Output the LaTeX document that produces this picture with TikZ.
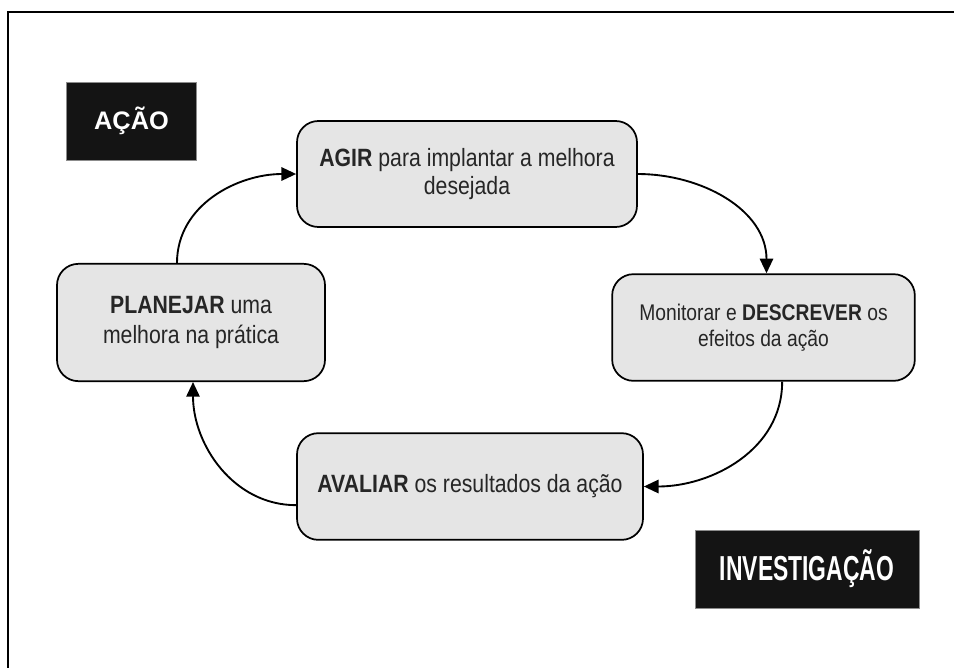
\documentclass[tikz,border=0pt]{standalone}
\usepackage{fontspec}
\setmainfont{Liberation Sans}
\newfontfamily\estreita{Liberation Sans}[FakeStretch=0.85]
\newfontfamily\apertada{Liberation Sans}[FakeStretch=0.66]
\usetikzlibrary{arrows.meta}

\begin{document}
\begin{tikzpicture}[x=0.75pt,y=-0.75pt,
    etapa/.style={draw,line width=1.3pt,fill=black!10,rounded corners=16pt,
      align=center,text=black!85,inner sep=0pt},
    rotulo/.style={draw=black!45,line width=0.6pt,fill=black!92,text=white,
      inner sep=0pt,minimum height=58.5pt},
    seta/.style={line width=1.4pt,-{Triangle[length=11pt,width=10pt]}}]
  \useasboundingbox (0,0) rectangle (954,668);
  \draw[line width=1.6pt] (8,668) -- (8,12) -- (954,12);
  \node[rotulo,minimum width=98pt,font=\fontsize{19}{22}\selectfont\bfseries] (acao) at (131.5,121) {AÇÃO};
  \node[rotulo,minimum width=168pt,font=\apertada\fontsize{26}{30}\selectfont\bfseries] (investigacao) at (807,569) {INVESTIGAÇÃO};
  \node[etapa,minimum width=255pt,minimum height=79.5pt,font=\estreita\fontsize{18.75}{21}\selectfont] (agir) at (467,174)
    {\textbf{AGIR} para implantar a melhora\\desejada};
  \node[etapa,minimum width=201pt,minimum height=88pt,font=\estreita\fontsize{18.75}{22}\selectfont] (planejar) at (191,322.5)
    {\textbf{PLANEJAR} uma\\melhora na prática};
  \node[etapa,minimum width=227pt,minimum height=80pt,font=\estreita\fontsize{17}{19.5}\selectfont] (monitorar) at (763.5,327.5)
    {Monitorar e \textbf{DESCREVER} os\\efeitos da ação};
  \node[etapa,minimum width=259.5pt,minimum height=80pt,font=\estreita\fontsize{18.75}{21}\selectfont] (avaliar) at (470,486.5)
    {\textbf{AVALIAR} os resultados da ação};
  \draw[seta] ([xshift=-10.5pt]planejar.north) to[out=90,in=180] (agir.west);
  \draw[seta] (agir.east) to[out=0,in=90] ([xshift=2.25pt]monitorar.north);
  \draw[seta] ([xshift=14pt]monitorar.south) to[out=-90,in=0] (avaliar.east);
  \draw[seta] ([yshift=-14pt]avaliar.west) to[out=180,in=-90] ([xshift=1.5pt]planejar.south);
\end{tikzpicture}
\end{document}
